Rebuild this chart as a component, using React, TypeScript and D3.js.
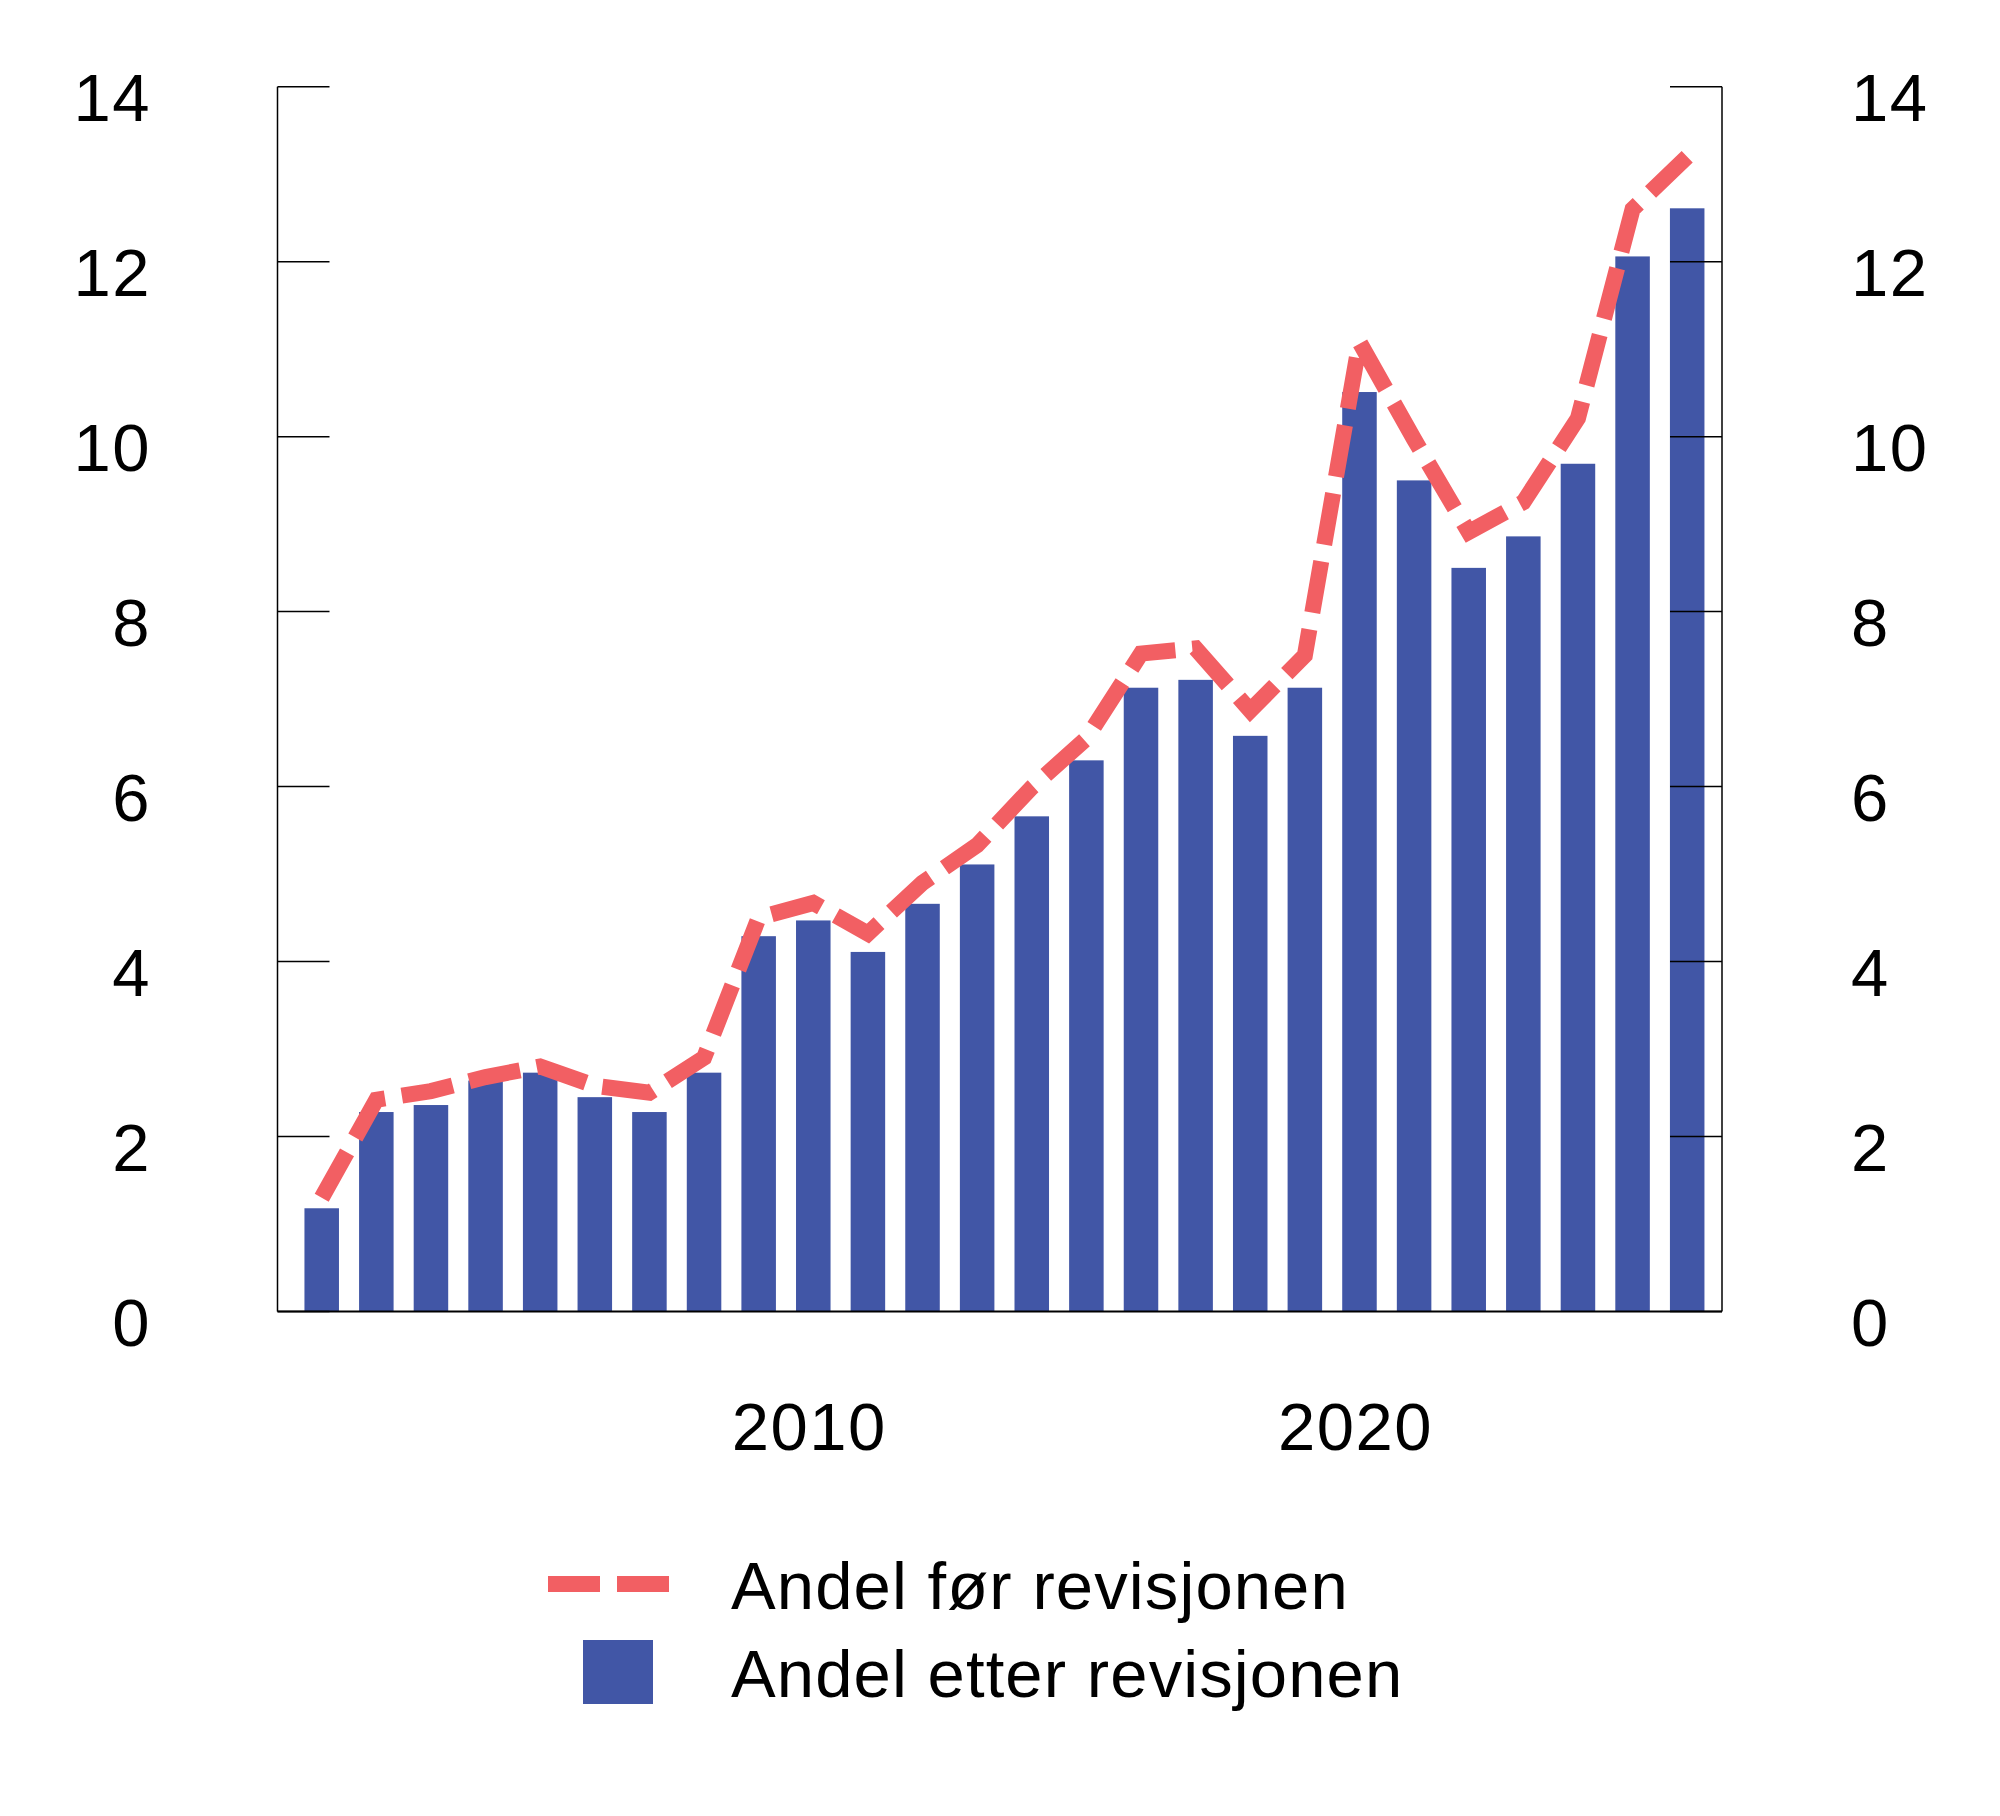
import * as d3 from 'd3'

const years = [
  2001, 2002, 2003, 2004, 2005, 2006, 2007, 2008, 2009, 2010, 2011, 2012, 2013,
  2014, 2015, 2016, 2017, 2018, 2019, 2020, 2021, 2022, 2023, 2024, 2025, 2026,
]

// Andel etter revisjonen (bars)
const afterRevision = [
  1.18, 2.28, 2.36, 2.64, 2.73, 2.45, 2.28, 2.73, 4.29, 4.47, 4.11, 4.66, 5.11,
  5.66, 6.3, 7.13, 7.22, 6.58, 7.13, 10.51, 9.5, 8.5, 8.86, 9.69, 12.06, 12.61,
]

// Andel før revisjonen (dashed line)
const beforeRevision = [
  1.3, 2.42, 2.52, 2.68, 2.8, 2.58, 2.5, 2.9, 4.5, 4.67, 4.32, 4.9, 5.33,
  5.99, 6.55, 7.52, 7.58, 6.87, 7.5, 11.08, 9.97, 8.91, 9.25, 10.21, 12.6, 13.2,
]

const yTicks = [0, 2, 4, 6, 8, 10, 12, 14]
const xTickYears = [2010, 2020]

const legendItems = ['Andel før revisjonen', 'Andel etter revisjonen']

const BAR_COLOR = '#4156a6'
const LINE_COLOR = '#f25f63'
const FONT = '"Liberation Sans", Arial, Helvetica, sans-serif'

export default function App() {
  const width = 2000
  const height = 1816
  const plot = { left: 277.5, right: 1722, top: 86.7, bottom: 1311.5 }
  const tickLength = 52

  const x = d3
    .scaleBand<number>()
    .domain(years)
    .range([294.4, 1714.5])
    .paddingInner(0.368)
    .paddingOuter(0.184)
  const y = d3.scaleLinear().domain([0, 14]).range([plot.bottom, plot.top])
  const center = (year: number) => (x(year) ?? 0) + x.bandwidth() / 2

  const line = d3
    .line<number>()
    .x((_, i) => center(years[i]))
    .y((value) => y(value))

  return (
    <svg
      width={width}
      height={height}
      viewBox={`0 0 ${width} ${height}`}
      style={{ position: 'absolute', left: 0, top: 0, display: 'block', background: '#fff' }}
      fontFamily={FONT}
    >
      {/* bars */}
      {years.map((year, i) => (
        <rect
          key={year}
          x={x(year)}
          y={y(afterRevision[i])}
          width={x.bandwidth()}
          height={y(0) - y(afterRevision[i])}
          fill={BAR_COLOR}
        />
      ))}

      {/* dashed line */}
      <path
        d={line(beforeRevision) ?? ''}
        fill="none"
        stroke={LINE_COLOR}
        strokeWidth="16"
        strokeDasharray="52 17"
        strokeLinejoin="miter"
      />

      {/* axes frame */}
      <line x1={plot.left} x2={plot.left} y1={plot.top} y2={plot.bottom} stroke="#000" strokeWidth="1.5" />
      <line x1={plot.right} x2={plot.right} y1={plot.top} y2={plot.bottom} stroke="#000" strokeWidth="1.5" />
      <line x1={plot.left} x2={plot.right} y1={plot.bottom} y2={plot.bottom} stroke="#000" strokeWidth="2" />

      {yTicks.map((tick) => (
        <g key={tick} transform={`translate(0,${y(tick)})`}>
          <line x1={plot.left} x2={plot.left + tickLength} stroke="#000" strokeWidth="1.5" />
          <line x1={plot.right - tickLength} x2={plot.right} stroke="#000" strokeWidth="1.5" />
          <text x={151} y={34} textAnchor="end" fontSize="67" letterSpacing="1.5" fill="#000">
            {tick}
          </text>
          <text x={1851} y={34} textAnchor="start" fontSize="67" letterSpacing="1.5" fill="#000">
            {tick}
          </text>
        </g>
      ))}

      {xTickYears.map((year) => (
        <text
          key={year}
          x={center(year) - 4}
          y={1450}
          textAnchor="middle"
          fontSize="67"
          letterSpacing="1.5"
          fill="#000"
        >
          {year}
        </text>
      ))}

      {/* legend */}
      <g>
        <line
          x1={548}
          x2={669}
          y1={1584}
          y2={1584}
          stroke={LINE_COLOR}
          strokeWidth="16"
          strokeDasharray="52 17"
        />
        <text x={731} y={1609} fontSize="67" letterSpacing="1.1" fill="#000">
          {legendItems[0]}
        </text>
        <rect x={583} y={1640} width={70} height={64} fill={BAR_COLOR} />
        <text x={731} y={1697} fontSize="67" letterSpacing="1.1" fill="#000">
          {legendItems[1]}
        </text>
      </g>
    </svg>
  )
}
